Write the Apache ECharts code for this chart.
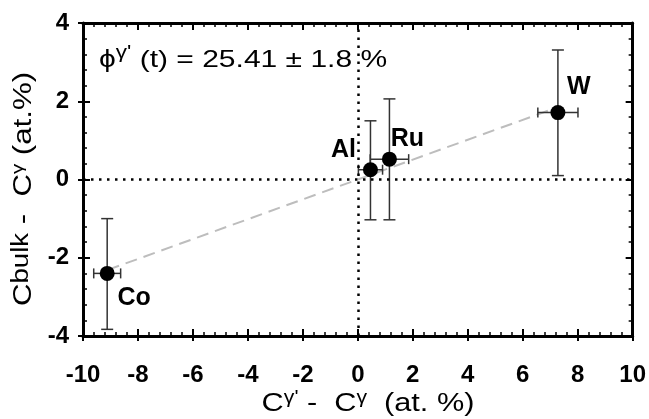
<!DOCTYPE html>
<html><head><meta charset="utf-8">
<script src="https://cdn.jsdelivr.net/npm/echarts@6/dist/echarts.min.js"></script>
<style>html,body{margin:0;padding:0;background:#fff}#c{width:649px;height:419px}</style>
</head><body><div id="c"></div><script>
// ---- data ----
const elements = ['Co', 'Al', 'Ru', 'W'];
const xValues = [-9.12, 0.46, 1.15, 7.28];
const yValues = [-2.40, 0.25, 0.52, 1.71];
const xErr = [0.49, 0.44, 0.70, 0.73];
const yLow = [-3.83, -1.03, -1.03, 0.10];
const yHigh = [-1.00, 1.50, 2.06, 3.31];
const fitX = [-9.10, 7.05];
const fitY = [-2.31, 1.79];
const xTicks = [-10, -8, -6, -4, -2, 0, 2, 4, 6, 8, 10];
const yTicks = [-4, -2, 0, 2, 4];
const phiText = '25.41 ± 1.8 %';

// ---- styles ----
const FONT = 'Liberation Sans, Arial, Helvetica, sans-serif';
const labelOffsets = { Co: [27, 25], Al: [-27, -20], Ru: [18, -20], W: [21, -25] };

const chart = echarts.init(document.getElementById('c'), null, { renderer: 'canvas' });

const pts = elements.map((n, i) => ({ name: n, value: [xValues[i], yValues[i]] }));
const errData = elements.map((n, i) => [xValues[i], yValues[i], xErr[i], yLow[i], yHigh[i]]);
const fitData = fitX.map((x, i) => [x, fitY[i]]);

function axisBase(pos, min, max, showLabel, inside) {
  return {
    type: 'value', position: pos, min: min, max: max, interval: 2,
    axisLine: { show: true, onZero: false, lineStyle: { color: '#000', width: 3 } },
    axisTick: { show: true, inside: inside, length: inside ? 7 : 5, lineStyle: { color: '#000', width: 2 } },
    minorTick: { show: inside, splitNumber: 5, length: 4, lineStyle: { color: '#000', width: 1.5 } },
    splitLine: { show: false }, minorSplitLine: { show: false },
    axisLabel: { show: showLabel }
  };
}

const xMain = axisBase('bottom', xTicks[0], xTicks[xTicks.length - 1], true, true);
xMain.axisLabel = { show: true, margin: 27, fontFamily: FONT, fontWeight: 'bold', fontSize: 24, color: '#000' };
const xTop = axisBase('top', xTicks[0], xTicks[xTicks.length - 1], false, true);
const xOut = axisBase('bottom', xTicks[0], xTicks[xTicks.length - 1], false, false);
xOut.axisLine.show = false;

const yMain = axisBase('left', yTicks[0], yTicks[yTicks.length - 1], true, true);
yMain.axisLabel = { show: true, margin: 14, fontFamily: FONT, fontWeight: 'bold', fontSize: 24, color: '#000' };
const yRight = axisBase('right', yTicks[0], yTicks[yTicks.length - 1], false, true);
const yOut = axisBase('left', yTicks[0], yTicks[yTicks.length - 1], false, false);
yOut.axisLine.show = false;

const supPad = [0, 0, 12, 0];
const option = {
  animation: false,
  backgroundColor: '#fff',
  grid: { left: 83, right: 15, top: 23, bottom: 83 },
  xAxis: [xMain, xTop, xOut],
  yAxis: [yMain, yRight, yOut],
  graphic: [
    {
      type: 'text', x: 24, y: 189, rotation: Math.PI / 2, scaleX: 1.2,
      style: {
        text: '{b|C}{s|bulk}{b| -  C}{g|γ}{b| (at.%)}',
        align: 'center', verticalAlign: 'middle', fill: '#000',
        rich: {
          b: { fontFamily: FONT, fontSize: 26, lineHeight: 30 },
          s: { fontFamily: FONT, fontSize: 23, padding: [0, 0, 4, 0] },
          g: { fontFamily: FONT, fontSize: 17, padding: supPad }
        }
      }
    },
    {
      type: 'text', x: 368, y: 404, scaleX: 1.18,
      style: {
        text: '{b|C}{g|γ\'}{b| -  C}{g|γ}{b|  (at. %)}',
        align: 'center', verticalAlign: 'middle', fill: '#000',
        rich: {
          b: { fontFamily: FONT, fontSize: 26, lineHeight: 30 },
          g: { fontFamily: FONT, fontSize: 18, padding: supPad }
        }
      }
    },
    {
      type: 'text', x: 99, y: 60, scaleX: 1.25,
      style: {
        text: '{b|ϕ}{g|γ\'}{b| (t) = ' + phiText + '}',
        align: 'left', verticalAlign: 'middle', fill: '#000',
        rich: {
          b: { fontFamily: FONT, fontSize: 24, lineHeight: 30 },
          g: { fontFamily: FONT, fontSize: 18, padding: [0, 0, 14, 0] }
        }
      }
    }
  ],
  series: [
    {
      type: 'line', data: fitData, showSymbol: false, symbol: 'none', silent: true,
      lineStyle: { color: '#bdbdbd', width: 2, type: [12, 7] }, z: 2,
      markLine: {
        silent: true, symbol: 'none', label: { show: false },
        lineStyle: { color: '#000', width: 2.5, type: [2.5, 5.5] },
        data: [{ xAxis: 0 }, { yAxis: 0 }]
      }
    },
    {
      type: 'custom', data: errData, z: 3, silent: true,
      renderItem: function (params, api) {
        const x = api.value(0), y = api.value(1), ex = api.value(2), lo = api.value(3), hi = api.value(4);
        const t = api.coord([x, hi]), b = api.coord([x, lo]);
        const l = api.coord([x - ex, y]), r = api.coord([x + ex, y]);
        const cw = 6, ch = 5;
        const st = { stroke: '#333', lineWidth: 1.5 };
        const ln = (x1, y1, x2, y2) => ({ type: 'line', shape: { x1, y1, x2, y2 }, style: st });
        return {
          type: 'group', children: [
            ln(t[0], t[1], b[0], b[1]),
            ln(t[0] - cw, t[1], t[0] + cw, t[1]),
            ln(b[0] - cw, b[1], b[0] + cw, b[1]),
            ln(l[0], l[1], r[0], r[1]),
            ln(l[0], l[1] - ch, l[0], l[1] + ch),
            ln(r[0], r[1] - ch, r[0], r[1] + ch)
          ]
        };
      }
    },
    {
      type: 'scatter', data: pts, symbol: 'circle', symbolSize: 15, z: 4,
      itemStyle: { color: '#000', opacity: 1 },
      label: {
        show: true, position: 'inside',
        formatter: p => p.name,
        fontFamily: FONT, fontWeight: 'bold', fontSize: 25, color: '#000', opacity: 1
      },
      labelLayout: function (p) {
        const n = elements[p.dataIndex];
        const o = labelOffsets[n];
        return { dx: o[0], dy: o[1] };
      }
    }
  ]
};
chart.setOption(option);
</script></body></html>
